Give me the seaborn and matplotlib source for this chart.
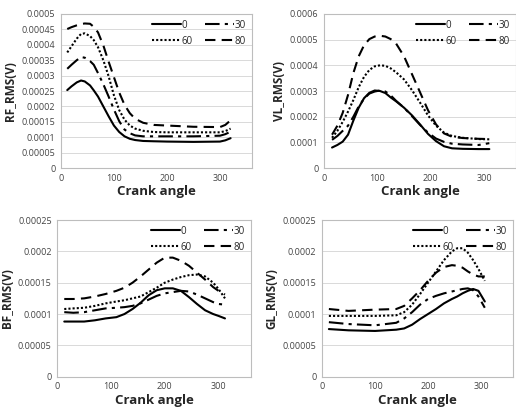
import matplotlib
matplotlib.use('Agg')
import matplotlib.pyplot as plt
import seaborn as sns
import pandas as pd
from matplotlib.ticker import FuncFormatter, MultipleLocator

sns.set_style('white')
plt.rcParams['font.family'] = ['Open Sans', 'DejaVu Sans']

series_names = ['0', '30', '60', '80']

# RF panel
rf_x = [12, 20, 30, 38, 45, 55, 62, 70, 80, 90, 100, 110, 120, 130, 140, 155, 175, 200, 250,
        300, 310, 320]
rf_0 = [0.000253, 0.000265, 0.000278, 0.000284, 0.000281, 0.000268, 0.000252, 0.000232,
        0.0002, 0.000168, 0.000138, 0.000117, 0.000103, 0.000095, 0.000091, 0.000088,
        0.000087, 0.000086, 0.000085, 0.000086, 0.00009, 0.000097]
rf_30 = [0.000322, 0.000335, 0.00035, 0.00036, 0.000358, 0.000347, 0.000335, 0.000308,
         0.000272, 0.000232, 0.00019, 0.000152, 0.000125, 0.000113, 0.000106, 0.000103,
         0.000103, 0.000103, 0.000103, 0.000105, 0.00011, 0.000118]
rf_60 = [0.000375, 0.000395, 0.00042, 0.000435, 0.000437, 0.000428, 0.000415, 0.000392,
         0.00035, 0.000298, 0.000236, 0.000188, 0.000157, 0.000138, 0.000128, 0.000121,
         0.000117, 0.000116, 0.000116, 0.000116, 0.00012, 0.000128]
rf_80 = [0.000451, 0.000457, 0.000463, 0.000467, 0.000469, 0.000468, 0.000458, 0.00044,
         0.000398, 0.000345, 0.000295, 0.000245, 0.000205, 0.000178, 0.00016, 0.000147,
         0.00014, 0.000138, 0.000134, 0.000133, 0.00014, 0.000155]

# VL panel
vl_x = [15, 25, 35, 45, 55, 65, 75, 85, 95, 105, 115, 125, 135, 150, 165, 180, 195, 210, 225,
        240, 260, 290, 310]
vl_0 = [0.00008, 0.00009, 0.000103, 0.00013, 0.000185, 0.000235, 0.000272, 0.000293,
        0.000302, 0.0003, 0.000292, 0.000275, 0.00026, 0.000235, 0.000205, 0.00017,
        0.000133, 0.000105, 0.000085, 0.000077, 0.000075, 0.000074, 0.000074]
vl_30 = [0.00011, 0.000125, 0.000145, 0.000165, 0.0002, 0.00024, 0.00027, 0.00029, 0.000298,
         0.000302, 0.000298, 0.000283, 0.000262, 0.000235, 0.000202, 0.000168, 0.000138,
         0.000115, 0.000102, 0.000095, 0.000092, 0.00009, 0.000097]
vl_60 = [0.000118, 0.000145, 0.00018, 0.00022, 0.000265, 0.000315, 0.000355, 0.000382,
         0.000396, 0.0004, 0.000398, 0.000388, 0.000373, 0.000345, 0.000303, 0.000255,
         0.000205, 0.000165, 0.000138, 0.000125, 0.000118, 0.000113, 0.000112]
vl_80 = [0.00013, 0.000165, 0.000215, 0.000285, 0.00037, 0.000435, 0.000478, 0.000502,
         0.000512, 0.000515, 0.000512, 0.000502, 0.000485, 0.000435, 0.000365, 0.000295,
         0.000225, 0.00017, 0.000135, 0.000122, 0.000117, 0.000114, 0.000113]

# BF panel
bf_x = [13, 30, 50, 70, 90, 110, 125, 140, 155, 170, 185, 200, 215, 230, 245, 260, 275, 290,
        300, 312]
bf_0 = [0.000088, 0.000088, 0.000088, 0.00009, 0.000093, 0.000095, 0.0001, 0.000108,
        0.000118, 0.00013, 0.000138, 0.000141, 0.000141, 0.000137, 0.000127, 0.000116,
        0.000106, 0.0001, 0.000097, 0.000093]
bf_30 = [0.000103, 0.000102, 0.000103, 0.000106, 0.000109, 0.00011, 0.000111, 0.000113,
         0.000117, 0.000123, 0.000129, 0.000133, 0.000135, 0.000137, 0.000136, 0.000131,
         0.000125, 0.000119, 0.000116, 0.000115]
bf_60 = [0.000108, 0.000109, 0.00011, 0.000113, 0.000117, 0.00012, 0.000122, 0.000125,
         0.000128, 0.000135, 0.000142, 0.00015, 0.000155, 0.000159, 0.000162, 0.000163,
         0.00016, 0.00015, 0.00014, 0.000125]
bf_80 = [0.000124, 0.000124, 0.000125, 0.000128, 0.000132, 0.000137, 0.000142, 0.00015,
         0.00016, 0.000171, 0.000182, 0.00019, 0.00019, 0.000185, 0.000177, 0.000166,
         0.000155, 0.000143, 0.000137, 0.000131]

# GL panel
gl_x = [13, 50, 100, 140, 155, 170, 185, 200, 215, 230, 245, 255, 265, 275, 285, 295, 307]
gl_0 = [0.000076, 0.000074, 0.000073, 0.000075, 0.000077, 0.000083, 0.000092, 0.0001,
        0.000108, 0.000117, 0.000124, 0.000128, 0.000133, 0.000137, 0.00014, 0.000137,
        0.00012]
gl_30 = [0.000087, 0.000084, 0.000082, 0.000086, 0.000093, 0.000103, 0.000115, 0.000124,
         0.000129, 0.000133, 0.000136, 0.000138, 0.00014, 0.000141, 0.000138, 0.000128,
         0.00011]
gl_60 = [0.000097, 0.000097, 0.000097, 0.000098, 0.000103, 0.000115, 0.000132, 0.00015,
         0.000168, 0.000186, 0.0002, 0.000205, 0.000205, 0.000198, 0.000186, 0.000172,
         0.000153]
gl_80 = [0.000108, 0.000105, 0.000107, 0.000108, 0.000113, 0.000125, 0.000138, 0.000153,
         0.000166, 0.000175, 0.000178, 0.000177, 0.000174, 0.000168, 0.000163, 0.00016,
         0.00016]

panels = [
    ('RF_RMS(V)', rf_x, [rf_0, rf_30, rf_60, rf_80], 0.0005, 0.00005),
    ('VL_RMS(V)', vl_x, [vl_0, vl_30, vl_60, vl_80], 0.0006, 0.0001),
    ('BF_RMS(V)', bf_x, [bf_0, bf_30, bf_60, bf_80], 0.00025, 0.00005),
    ('GL_RMS(V)', gl_x, [gl_0, gl_30, gl_60, gl_80], 0.00025, 0.00005),
]

styles = ['-', (0, (7, 2.5, 1.5, 2.5)), (0, (1, 1)), (0, (5, 3))]

positions = [
    [0.118, 0.589, 0.370, 0.377],
    [0.628, 0.589, 0.372, 0.377],
    [0.111, 0.079, 0.375, 0.383],
    [0.624, 0.079, 0.370, 0.383],
]


def fmt(v, pos):
    if abs(v) < 1e-12:
        return '0'
    return f'{v:.5f}'.rstrip('0').rstrip('.')


fig = plt.figure(figsize=(5.16, 4.09), dpi=100)

for (ylab, xs, ys, ymax, ystep), pos in zip(panels, positions):
    ax = fig.add_axes(pos)
    for name, vals, ls in zip(series_names, ys, styles):
        df = pd.DataFrame({'x': xs, 'y': vals})
        sns.lineplot(data=df, x='x', y='y', ax=ax, color='black', linestyle=ls,
                     linewidth=1.5, label=name)
    ax.set_xlim(0, 360)
    ax.set_ylim(0, ymax)
    ax.xaxis.set_major_locator(MultipleLocator(100))
    ax.yaxis.set_major_locator(MultipleLocator(ystep))
    ax.yaxis.set_major_formatter(FuncFormatter(fmt))
    ax.grid(axis='y', color='#d9d9d9', linewidth=0.7)
    ax.set_axisbelow(True)
    for s in ax.spines.values():
        s.set_color('#bdbdbd')
        s.set_linewidth(0.8)
    ax.tick_params(axis='both', labelsize=6.5, colors='#444444', length=2, width=0.6,
                   pad=2)
    ax.set_ylabel(ylab, fontsize=8.5, fontweight='bold', labelpad=3)
    ax.set_xlabel('Crank angle', fontsize=9.5, fontweight='bold', labelpad=2)
    # row-major legend order like the original: 0, 30 / 60, 80
    h, l = ax.get_legend_handles_labels()
    order = [0, 2, 1, 3]
    ax.legend([h[i] for i in order], [l[i] for i in order], loc='upper right', ncol=2,
              frameon=False, fontsize=7, handlelength=3, handletextpad=0.1,
              columnspacing=1.2, borderaxespad=0.2, labelspacing=0.5)

fig.savefig('out.png', dpi=100)
